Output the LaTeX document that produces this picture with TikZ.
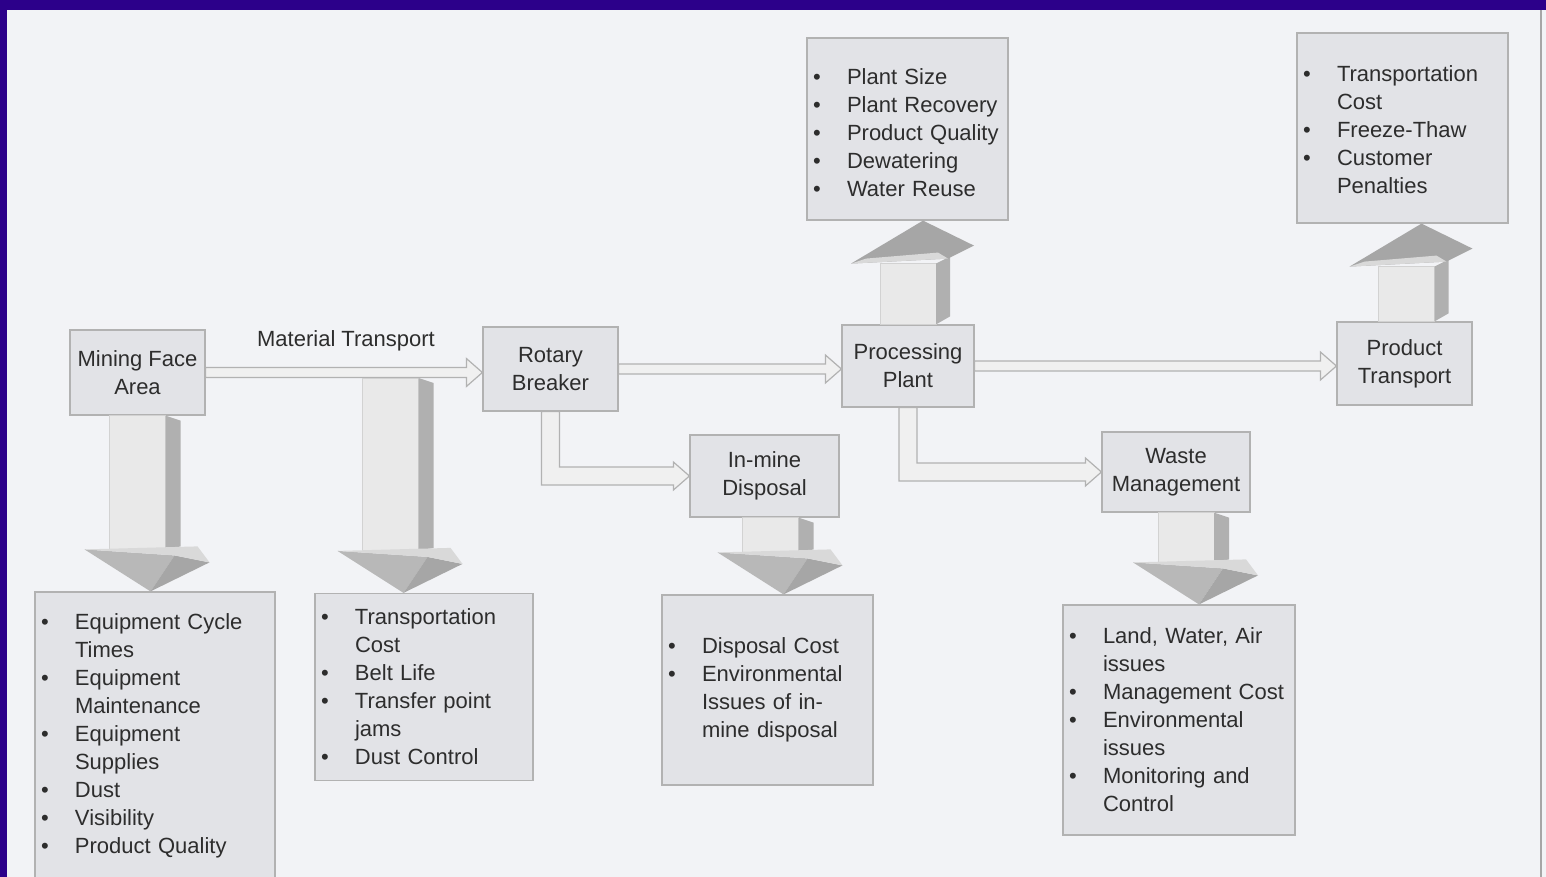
\documentclass[tikz,border=0pt]{standalone}
\usepackage{fontspec}
\setmainfont{Liberation Sans}
\usetikzlibrary{calc}

\definecolor{frameblue}{RGB}{44,0,138}
\definecolor{paper}{RGB}{242,243,246}
\definecolor{boxfill}{RGB}{226,227,231}
\definecolor{ink}{RGB}{45,45,45}

\tikzset{
	stage/.style={draw=gray!60, fill=boxfill, line width=0.6pt, align=center, inner sep=0pt, text=ink},
	facts/.style={draw=gray!60, fill=boxfill, line width=0.6pt, align=left, inner sep=0pt, text=ink},
	flow/.style={draw=gray!60, fill=gray!12, line width=0.6pt},
	frontface/.style={fill=gray!17, draw=gray!35, line width=0.3pt},
	sideface/.style={fill=gray!62},
	headlit/.style={fill=gray!30},
	headmid/.style={fill=gray!56},
	headdark/.style={fill=gray!70}
}

% bullet line with hanging indent
\newcommand{\bitem}{\par\noindent\hangindent=20pt\hangafter=1\makebox[20pt][l]{\hspace{3pt}\textbullet}}
% close a list, a little room below
\newcommand{\listend}[1][6pt]{\par\vspace*{#1}}

% straight hollow arrow, #1 -> #2
\newcommand{\flowarrow}[2]{%
	\path (#1) coordinate (fa-s) (fa-s -| #2) coordinate (fa-e);
	\draw[flow] ($(fa-s)+(0,-5)$) -- ($(fa-e)+(-16,-5)$) -- ($(fa-e)+(-16,-14)$) -- (fa-e)
		-- ($(fa-e)+(-16,14)$) -- ($(fa-e)+(-16,5)$) -- ($(fa-s)+(0,5)$) -- cycle;}

% hollow elbow arrow, down from #1 then right into #2
\newcommand{\elbowarrow}[2]{%
	\path (#1) coordinate (ea-s) (#2) coordinate (ea-e) (ea-s |- ea-e) coordinate (ea-c);
	\draw[flow] ($(ea-s)+(-9,0)$) -- ($(ea-c)+(-9,9)$) -- ($(ea-e)+(-16,9)$) -- ($(ea-e)+(-16,14)$) -- (ea-e)
		-- ($(ea-e)+(-16,-14)$) -- ($(ea-e)+(-16,-9)$) -- ($(ea-c)+(9,-9)$) -- ($(ea-s)+(9,0)$) -- cycle;}

% 3D block arrow, from #1 down to the level of #2
\newcommand{\downblock}[2]{%
	\path (#1) coordinate (db-t) (db-t |- #2) coordinate (db-p);
	\path[frontface] ($(db-t)+(-28,0)$) rectangle ($(db-p)+(28,-42)$);
	\path[sideface] ($(db-t)+(28,0)$) -- ($(db-t)+(43,5)$) -- ($(db-p)+(43,-45)$) -- ($(db-p)+(28,-42)$) -- cycle;
	\path[headmid] ($(db-p)+(-53,-42)$) -- ($(db-p)+(37,-36)$) -- ($(db-p)+(13,0)$) -- cycle;
	\path[headdark] ($(db-p)+(37,-36)$) -- ($(db-p)+(72,-29)$) -- ($(db-p)+(13,0)$) -- cycle;
	\path[headlit] ($(db-p)+(-53,-42)$) -- ($(db-p)+(60,-45)$) -- ($(db-p)+(72,-29)$) -- ($(db-p)+(37,-36)$) -- cycle;}

% 3D block arrow, from #1 up to the level of #2
\newcommand{\upblock}[2]{%
	\path (#1) coordinate (ub-b) (ub-b |- #2) coordinate (ub-p);
	\path[frontface] ($(ub-b)+(-28,0)$) rectangle ($(ub-p)+(28,43)$);
	\path[sideface] ($(ub-b)+(28,0)$) -- ($(ub-b)+(42,-8)$) -- ($(ub-p)+(42,36)$) -- ($(ub-p)+(28,43)$) -- cycle;
	\path[headdark] ($(ub-p)+(-57,43)$) -- ($(ub-p)+(15,0)$) -- ($(ub-p)+(66,25)$) -- ($(ub-p)+(40,38)$) -- cycle;
	\path[headlit] ($(ub-p)+(-57,43)$) -- ($(ub-p)+(40,38)$) -- ($(ub-p)+(30,32)$) -- ($(ub-p)+(-42,38)$) -- cycle;}

\begin{document}
\begin{tikzpicture}[x=0.5pt, y=-0.5pt]
	% Default font for each node
	\tikzstyle{every node}=[font=\fontsize{11}{14}\selectfont];

	\useasboundingbox (0,0) rectangle (1546,877);
	\fill[paper] (0,0) rectangle (1546,877);
	\fill[frameblue] (0,0) rectangle (1546,10);
	\fill[frameblue] (0,0) rectangle (7,877);
	\draw[gray!70, line width=1pt] (1541,10) -- (1541,877);

	% Stages
	\node[stage, minimum width=67.5pt, minimum height=42.5pt] (mining) at (137.5,372.5) {Mining Face\\Area};
	\node[stage, minimum width=67.5pt, minimum height=42pt] (breaker) at (550.5,369) {Rotary\\Breaker};
	\node[stage, minimum width=66pt, minimum height=41pt] (plant) at (908,366) {Processing\\Plant};
	\node[stage, minimum width=67.5pt, minimum height=41.5pt] (product) at (1404.5,363.5) {Product\\Transport};
	\node[stage, minimum width=74.5pt, minimum height=41pt] (inmine) at (764.5,476) {In-mine\\Disposal};
	\node[stage, minimum width=74pt, minimum height=40pt] (waste) at (1176,472) {Waste\\Management};
	\node[text=ink] (carrierLabel) at (346,341) {Material Transport};
	\coordinate (beltdrop) at (390.5,378);

	% Issue lists
	\node[facts, text width=120pt, minimum height=144pt] (miningList) at (155,736) {\bitem Equipment Cycle\newline Times \bitem Equipment\newline Maintenance \bitem Equipment\newline Supplies \bitem Dust \bitem Visibility \bitem Product Quality\listend};
	\node[facts, text width=109pt, minimum height=93.5pt] (beltList) at (424,687) {\bitem Transportation\newline Cost \bitem Belt Life \bitem Transfer point\newline jams \bitem Dust Control\listend};
	\node[facts, text width=105.5pt, minimum height=95pt] (disposalList) at (767.5,690) {\bitem Disposal Cost \bitem Environmental\newline Issues of in-\newline mine disposal\listend};
	\node[facts, text width=116pt, minimum height=115pt] (wasteList) at (1179,720) {\bitem Land, Water, Air\newline issues \bitem Management Cost \bitem Environmental\newline issues \bitem Monitoring and\newline Control\listend};
	\node[facts, text width=100.5pt, minimum height=91pt] (plantList) at (907.5,129) {\bitem Plant Size \bitem Plant Recovery \bitem Product Quality \bitem Dewatering \bitem Water Reuse\listend[2pt]};
	\node[facts, text width=105.5pt, minimum height=95pt] (productList) at (1402.5,128) {\bitem Transportation\newline Cost \bitem Freeze-Thaw \bitem Customer\newline Penalties\listend[4pt]};

	% Main flow
	\flowarrow{mining.east}{breaker.west}
	\flowarrow{breaker.east}{plant.west}
	\flowarrow{plant.east}{product.west}
	\elbowarrow{breaker.south}{inmine.west}
	\elbowarrow{plant.south}{waste.west}

	% Issue arrows
	\downblock{mining.south}{miningList.north}
	\downblock{beltdrop}{beltList.north}
	\downblock{$(inmine.south)+(6,0)$}{disposalList.north}
	\downblock{$(waste.south)+(10,0)$}{wasteList.north}
	\upblock{plant.north}{plantList.south}
	\upblock{$(product.north)+(2,0)$}{productList.south}
\end{tikzpicture}
\end{document}
